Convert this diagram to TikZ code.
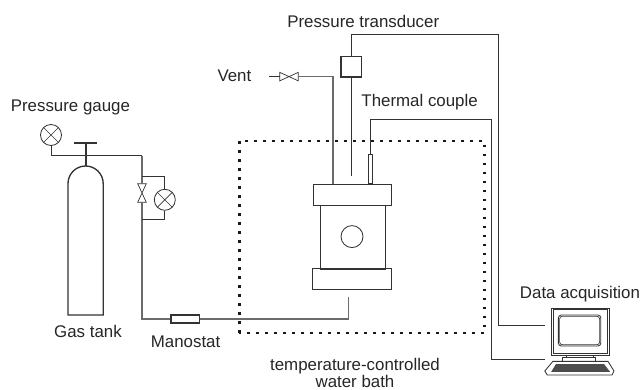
\documentclass[tikz,border=0pt]{standalone}
\usepackage{fontspec}
\setmainfont{Liberation Sans}
\usepackage{xcolor}
\usetikzlibrary{positioning,calc}

\definecolor{pipegray}{gray}{0.42}
\definecolor{wiredark}{gray}{0.2}

\tikzset{
  pipe/.style={pipegray, line width=0.8pt},
  wire/.style={wiredark, line width=0.6pt},
  gauge/.style={circle, draw=wiredark, line width=0.6pt, minimum size=0.525cm, inner sep=0pt,
    path picture={\draw[wiredark, line width=0.5pt] (path picture bounding box.north west) -- (path picture bounding box.south east)
      (path picture bounding box.north east) -- (path picture bounding box.south west);}},
  valve/.style={inner sep=0pt},
  part/.style={draw=wiredark, line width=0.7pt, inner sep=0pt},
  label/.style={text=black!85, inner sep=0pt}
}

\begin{document}
\begin{tikzpicture}[scale=1.0, font=\fontsize{12}{12.2}\selectfont]
\useasboundingbox (0,0) rectangle (16,9.725);

% gas tank
\draw[wiredark, line width=0.95pt] (1.70,1.85) -- (1.70,5.135) arc (180:0:0.44) -- (2.58,1.85) -- cycle;
\draw[wiredark, line width=1.4pt] (1.85,6.15) -- (2.43,6.15);
\draw[wiredark, line width=1.4pt] (2.14,6.15) -- (2.14,5.575);
\node[label] (tanklabel) at (2.2,1.43) {Gas tank};

% gauges and inlet line
\node[gauge] (tankgauge) at (1.275,6.35) {};
\node[label] (tankgaugelabel) at (1.76,7.04) {Pressure gauge};
\node[gauge] (bypassgauge) at (4.12,4.73) {};
\node[valve, minimum width=0.2cm, minimum height=0.45cm] (bypassvalve) at (3.55,4.90) {};
\draw[wiredark, line width=0.5pt] (bypassvalve.north west) -- (bypassvalve.north east) -- (bypassvalve.south west) -- (bypassvalve.south east) -- cycle;
\node[part, line width=1pt, minimum width=0.71cm, minimum height=0.21cm] (manostat) at (4.63,1.75) {};
\node[label] (manostatlabel) at (4.64,1.18) {Manostat};
\coordinate (tee) at (3.55,5.835);
\coordinate (bypasstop) at (3.55,5.31);
\coordinate (bypassbottom) at (3.55,4.24);
\coordinate (inletcorner) at (3.55,1.75);
\coordinate (inletend) at (8.72,2.30);
\draw[wire] (tankgauge.south) |- (tee);
\draw[pipe] (tee) -- (bypassvalve.north);
\draw[pipe] (bypassvalve.south) -- (inletcorner) -- (manostat.west);
\draw[pipe] (manostat.east) -| (inletend);
\draw[wire] (bypasstop) -| (bypassgauge.north);
\draw[wire] (bypassgauge.south) |- (bypassbottom);

% cell
\node[part, minimum width=1.96cm, minimum height=0.54cm] (topflange) at (8.81,4.854) {};
\node[part, minimum width=1.97cm, minimum height=0.525cm] (bottomflange) at (8.80,2.74) {};
\node[part, minimum width=1.61cm, minimum height=1.58cm] (cellbody) at (8.82,3.79) {};
\node[part, circle, line width=0.6pt, minimum size=0.55cm] (window) at (8.80,3.81) {};

% water bath
\draw[black!90, line width=2pt, dash pattern=on 2pt off 4.4pt] (5.98,1.4) rectangle (12.11,6.2);
\node[label, align=center] (bathlabel) at (8.875,0.41) {temperature-controlled\\water bath};

% vent
\node[label] (ventlabel) at (5.86,7.82) {Vent};
\node[valve, minimum width=0.45cm, minimum height=0.2cm] (ventvalve) at (7.225,7.81) {};
\draw[wiredark, line width=0.5pt] (ventvalve.north west) -- (ventvalve.south east) -- (ventvalve.north east) -- (ventvalve.south west) -- cycle;
\coordinate (ventend) at (6.73,7.81);
\coordinate (ventcorner) at (8.325,7.81);
\coordinate (ventcell) at (8.325,5.125);
\draw[wire] (ventend) -- (ventvalve.west);
\draw[pipe] (ventvalve.east) -- (ventcorner) -- (ventcell);

% pressure transducer
\node[part, line width=1.1pt, minimum size=0.52cm] (transducer) at (8.78,8.054) {};
\node[label] (transducerlabel) at (9.08,9.2) {Pressure transducer};
\coordinate (transducerend) at (8.78,5.325);
\coordinate (signala) at (13.625,1.6);
\draw[wire] (transducer.south) -- (transducerend);
\draw[wire] (transducer.north) |- (12.46,8.87) |- (signala);

% thermal couple
\node[part, line width=0.6pt, minimum width=0.09cm, minimum height=0.725cm] (probe) at (9.26,5.49) {};
\node[label] (probelabel) at (10.49,7.17) {Thermal couple};
\coordinate (signalb) at (13.625,0.75);
\draw[wire] (probe.north) |- (12.29,6.74) |- (signalb);

% computer
\node[label] (computerlabel) at (14.5,2.36) {Data acquisition};
\draw[wiredark, line width=0.7pt] (13.79,0.85) rectangle (15.225,2.02);
\draw[wiredark, line width=0.5pt] (13.83,0.89) rectangle (15.185,1.98);
\draw[wiredark, line width=0.6pt, rounded corners=2pt] (13.96,1.075) rectangle (15.02,1.85);
\draw[wiredark, line width=0.5pt, rounded corners=2pt] (13.99,1.105) rectangle (14.99,1.82);
\draw[wiredark, line width=0.6pt] (14.17,0.85) rectangle (14.825,0.79);
\draw[wiredark, line width=0.6pt] (14.07,0.79) rectangle (14.89,0.69);
\draw[wiredark, line width=0.6pt] (13.82,0.69) -- (15.2,0.69) -- (15.35,0.45) -- (15.3,0.35) -- (13.68,0.35) -- (13.62,0.45) -- cycle;
\fill[black!70] (13.9,0.625) -- (15.1,0.625) -- (15.25,0.43) -- (13.78,0.43) -- cycle;
\end{tikzpicture}
\end{document}
